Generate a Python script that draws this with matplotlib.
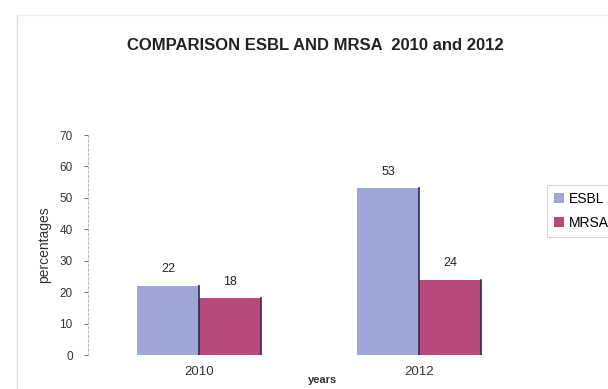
import numpy as np
import matplotlib.pyplot as plt

# percentages of resistant isolates per year
years = ['2010', '2012']
esbl = [22, 53]
mrsa = [18, 24]

plt.rcParams['font.family'] = ['Liberation Sans', 'DejaVu Sans']

fig = plt.figure(figsize=(6.08, 3.89), dpi=100)
ax = fig.add_axes([88/608, 1 - 355/389, (530-88)/608, (355-135)/389])

x = np.arange(len(years))
w = 0.282
b1 = ax.bar(x - w/2, esbl, w, color='#9ea7d8', linewidth=0.0, label='ESBL')
b2 = ax.bar(x + w/2, mrsa, w, color='#b9487c', linewidth=0.0, label='MRSA')

# dark right edge on each bar
for bars in (b1, b2):
    for r in bars:
        xr = r.get_x() + r.get_width()
        ax.plot([xr, xr], [0, r.get_height()], color='#2e2a4a', lw=1.2)

for bars, vals in ((b1, esbl), (b2, mrsa)):
    for r, v in zip(bars, vals):
        ax.text(r.get_x() + r.get_width()/2, v + 3.3, str(v), ha='center', va='bottom',
                fontsize=9, color='#222222')

ax.set_ylim(0, 70)
ax.set_xlim(-0.505, 1.505)
ax.set_yticks(range(0, 71, 10))
ax.set_xticks(x)
ax.set_xticklabels(years)
ax.tick_params(axis='y', labelsize=8.5, colors='#333333', length=3, width=0.5, pad=8)
ax.tick_params(axis='x', labelsize=9.5, colors='#333333', length=0, pad=8)
for s in ('top', 'right', 'bottom'):
    ax.spines[s].set_visible(False)
ax.spines['left'].set_color('#bbbbbb')
ax.spines['left'].set_linestyle((0, (2, 2)))
ax.spines['left'].set_linewidth(0.8)

ax.set_ylabel('percentages', fontsize=10, color='#333333', labelpad=6)
fig.text(322/608, 1 - 380/389, 'years', fontsize=8, fontweight='bold', color='#333333',
         ha='center', va='center')

fig.text(315/608, 1 - 45/389, 'COMPARISON ESBL AND MRSA  2010 and 2012', fontsize=12,
         fontweight='bold', color='#222222', ha='center', va='center')

leg = fig.legend(handles=[b1, b2], loc='upper left', bbox_to_anchor=(540/608, 1 - 178/389),
                 fontsize=10, frameon=True, fancybox=False, handlelength=0.7, handleheight=0.7,
                 handletextpad=0.4, labelspacing=0.7, borderpad=0.5)
leg.get_frame().set_edgecolor('#cccccc')
leg.get_frame().set_linewidth(0.8)

# outer chart frame (left and top edges)
fig.add_artist(plt.Line2D([17/608, 17/608], [0, 1 - 15/389], color='#dddddd', lw=1.0))
fig.add_artist(plt.Line2D([17/608, 1], [1 - 15/389, 1 - 15/389], color='#eeeeee', lw=1.0))

fig.savefig('out.png', dpi=100)
